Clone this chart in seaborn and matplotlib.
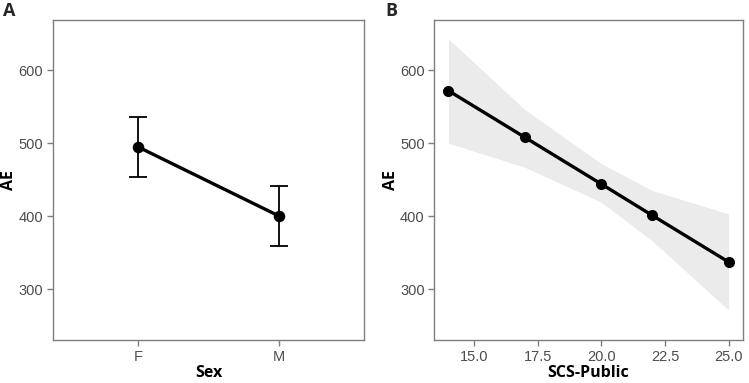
import matplotlib
matplotlib.use("Agg")
import matplotlib.pyplot as plt
import seaborn as sns
import pandas as pd
import numpy as np

# Panel A data
sex = ["F", "M"]
ae_sex = [495, 400]
ae_sex_low = [454, 359]
ae_sex_high = [536, 441]

# Panel B data
scs_public = [14, 17, 20, 22, 25]
ae_scs = [572, 508, 444, 401, 337]
ae_scs_low = [500, 467, 419, 366, 271]
ae_scs_high = [643, 546, 472, 435, 403]

yticks = [300, 400, 500, 600]

sns.set_theme(style="white")
plt.rcParams['font.family'] = ['Liberation Sans', 'DejaVu Sans']

fig = plt.figure(figsize=(7.49, 3.83), dpi=100)
axA = fig.add_axes([0.0708, 0.112, 0.4152, 0.836])
axB = fig.add_axes([0.580, 0.112, 0.4116, 0.836])

tick_color = "#4D4D4D"
spine_color = "#7F7F7F"
title_font = dict(family=["Open Sans", "DejaVu Sans"], fontweight="bold", fontsize=11.5, color="black")

dfA = pd.DataFrame({"Sex": sex, "AE": ae_sex})
sns.pointplot(data=dfA, x="Sex", y="AE", color="black", errorbar=None,
              markers="o", markersize=6.5, linewidth=2.4, ax=axA)
xa = np.arange(len(sex))
axA.errorbar(xa, ae_sex,
             yerr=[np.array(ae_sex) - np.array(ae_sex_low), np.array(ae_sex_high) - np.array(ae_sex)],
             fmt="none", ecolor="black", elinewidth=1.3, capsize=6.5, capthick=1.3, zorder=1)
axA.set_xlim(-0.6, 1.6)

dfB = pd.DataFrame({"SCS-Public": scs_public, "AE": ae_scs})
axB.fill_between(scs_public, ae_scs_low, ae_scs_high, color="#EBEBEB", linewidth=0, zorder=0)
sns.lineplot(data=dfB, x="SCS-Public", y="AE", color="black", linewidth=2.4,
             marker="o", markersize=8, markeredgewidth=0, ax=axB)
axB.set_xlim(13.45, 25.55)
axB.set_xticks([15.0, 17.5, 20.0, 22.5, 25.0])
axB.set_xticklabels(["15.0", "17.5", "20.0", "22.5", "25.0"])

for ax, xl in [(axA, "Sex"), (axB, "SCS-Public")]:
    ax.set_ylim(230, 669)
    ax.set_yticks(yticks)
    ax.set_yticklabels([str(t) for t in yticks])
    ax.set_facecolor("white")
    for s in ax.spines.values():
        s.set_visible(True)
        s.set_color(spine_color)
        s.set_linewidth(1.0)
    ax.tick_params(axis="both", which="major", direction="out", length=4, width=1.0,
                   color=spine_color, labelcolor=tick_color, labelsize=10.5, pad=3,
                   bottom=True, left=True)
    ax.set_xlabel(xl, **title_font, labelpad=1)
    ax.set_ylabel("AE", **title_font, labelpad=1)
    ax.grid(False)

fig.text(0.004, 0.995, "A", ha="left", va="top", fontsize=13, fontweight="bold",
         family=["Open Sans", "DejaVu Sans"])
fig.text(0.515, 0.995, "B", ha="left", va="top", fontsize=13, fontweight="bold",
         family=["Open Sans", "DejaVu Sans"])

fig.savefig("out.png", dpi=100)
